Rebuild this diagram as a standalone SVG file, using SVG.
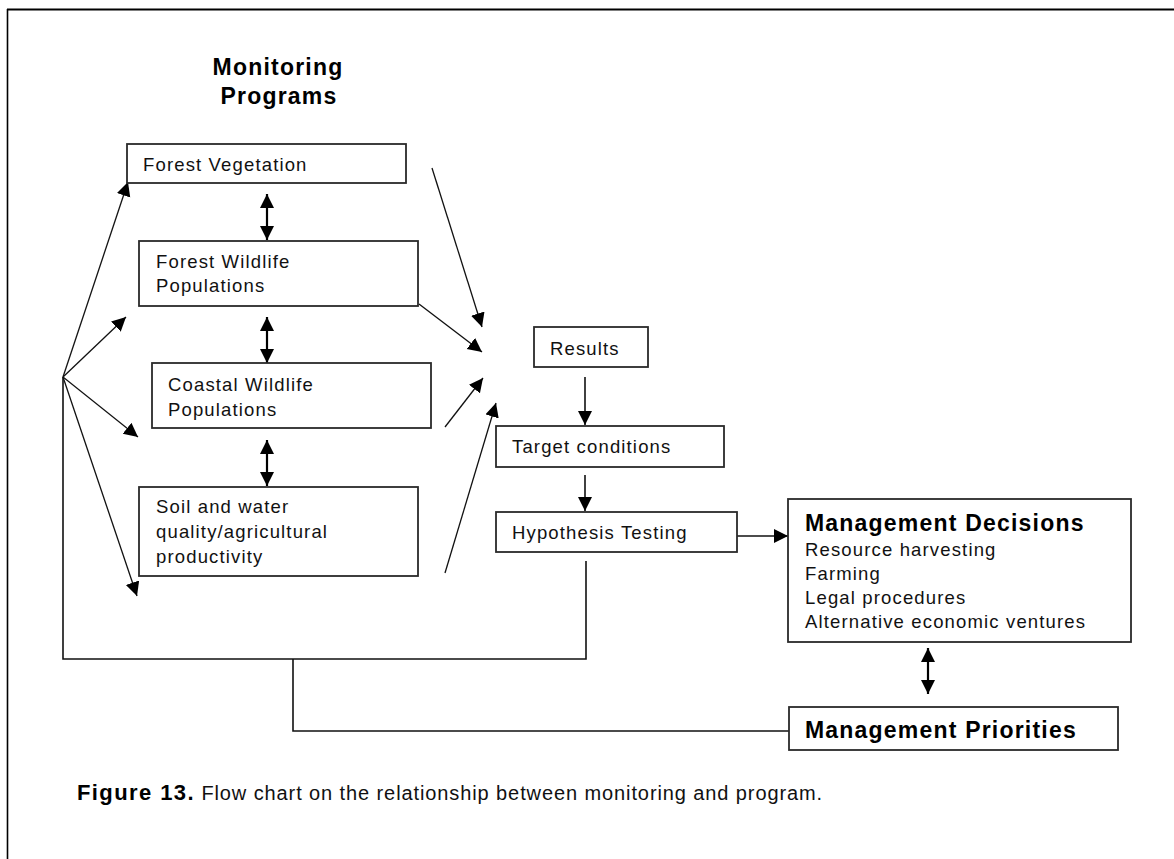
<svg xmlns="http://www.w3.org/2000/svg" width="1174" height="859" viewBox="0 0 1174 859">
  <style>
    .box { fill: #fff; stroke: #2a2a2a; stroke-width: 1.8; }
    .t { font-family: "Liberation Sans", Arial, sans-serif; font-size: 18.5px; letter-spacing: 1.15px; fill: #111; }
    .tb { font-family: "Liberation Sans", Arial, sans-serif; font-size: 23px; font-weight: bold; letter-spacing: 1.2px; fill: #000; }
    .thin { fill: none; stroke: #111; stroke-width: 1.3; }
    .mid { fill: none; stroke: #111; stroke-width: 1.6; }
    .dbl { fill: none; stroke: #000; stroke-width: 2.2; }
    .frame { fill: none; stroke: #000; }
  </style>
  <defs>
    <marker id="head" markerUnits="userSpaceOnUse" markerWidth="16" markerHeight="16" refX="14" refY="7" orient="auto-start-reverse" viewBox="0 0 16 16">
      <path d="M0,0 L14,7 L0,14 z" fill="#000"/>
    </marker>
  </defs>

  <rect width="1174" height="859" fill="#fff"/>

  <!-- page frame -->
  <g id="frame">
    <line class="frame" x1="7" y1="9.5" x2="1174" y2="9.5" stroke-width="2.2"/>
    <line class="frame" x1="7.5" y1="9" x2="7.5" y2="859" stroke-width="1.6"/>
  </g>

  <!-- heading -->
  <g id="title">
    <text class="tb" x="278" y="75" text-anchor="middle">Monitoring</text>
    <text class="tb" x="279" y="104" text-anchor="middle">Programs</text>
  </g>

  <!-- connectors -->
  <g id="connectors">
    <!-- fan out from the left hub -->
    <line class="thin" x1="63" y1="377" x2="128" y2="182" marker-end="url(#head)"/>
    <line class="thin" x1="63" y1="377" x2="126" y2="317" marker-end="url(#head)"/>
    <line class="thin" x1="63" y1="377" x2="138" y2="437" marker-end="url(#head)"/>
    <line class="thin" x1="63" y1="377" x2="137" y2="596" marker-end="url(#head)"/>
    <!-- feedback loop -->
    <polyline class="mid" points="63,377 63,659 586,659 586,561"/>
    <polyline class="mid" points="293,659 293,731 789,731"/>
    <!-- converging into results -->
    <line class="thin" x1="432" y1="168" x2="482" y2="327" marker-end="url(#head)"/>
    <line class="thin" x1="419" y1="304" x2="482" y2="352" marker-end="url(#head)"/>
    <line class="thin" x1="445" y1="427" x2="483" y2="378" marker-end="url(#head)"/>
    <line class="thin" x1="445" y1="573" x2="496" y2="403" marker-end="url(#head)"/>
    <!-- two-way links -->
    <line class="dbl" x1="267" y1="194" x2="267" y2="240" marker-start="url(#head)" marker-end="url(#head)"/>
    <line class="dbl" x1="267" y1="317" x2="267" y2="363" marker-start="url(#head)" marker-end="url(#head)"/>
    <line class="dbl" x1="267" y1="440" x2="267" y2="486" marker-start="url(#head)" marker-end="url(#head)"/>
    <line class="dbl" x1="928" y1="648" x2="928" y2="694" marker-start="url(#head)" marker-end="url(#head)"/>
    <!-- main sequence -->
    <line class="mid" x1="585" y1="377" x2="585" y2="425" marker-end="url(#head)"/>
    <line class="mid" x1="585" y1="475" x2="585" y2="511" marker-end="url(#head)"/>
    <line class="mid" x1="737" y1="536" x2="788" y2="536" marker-end="url(#head)"/>
  </g>

  <g id="forest-vegetation">
    <rect class="box" x="127" y="144" width="279" height="39"/>
    <text class="t" x="143" y="171">Forest Vegetation</text>
  </g>
  <g id="forest-wildlife">
    <rect class="box" x="139" y="241" width="279" height="65"/>
    <text class="t" x="156" y="268">Forest Wildlife</text>
    <text class="t" x="156" y="292">Populations</text>
  </g>
  <g id="coastal-wildlife">
    <rect class="box" x="152" y="363" width="279" height="65"/>
    <text class="t" x="168" y="391">Coastal Wildlife</text>
    <text class="t" x="168" y="416">Populations</text>
  </g>
  <g id="soil-water">
    <rect class="box" x="139" y="487" width="279" height="89"/>
    <text class="t" x="156" y="513">Soil and water</text>
    <text class="t" x="156" y="538">quality/agricultural</text>
    <text class="t" x="156" y="563">productivity</text>
  </g>
  <g id="results">
    <rect class="box" x="534" y="327" width="114" height="40"/>
    <text class="t" x="550" y="355">Results</text>
  </g>
  <g id="target-conditions">
    <rect class="box" x="496" y="426" width="228" height="41"/>
    <text class="t" x="512" y="453">Target conditions</text>
  </g>
  <g id="hypothesis-testing">
    <rect class="box" x="496" y="512" width="241" height="40"/>
    <text class="t" x="512" y="539">Hypothesis Testing</text>
  </g>
  <g id="management-decisions">
    <rect class="box" x="788" y="499" width="343" height="143"/>
    <text class="tb" x="805" y="531">Management Decisions</text>
    <text class="t" x="805" y="556">Resource harvesting</text>
    <text class="t" x="805" y="580">Farming</text>
    <text class="t" x="805" y="604">Legal procedures</text>
    <text class="t" x="805" y="628">Alternative economic ventures</text>
  </g>
  <g id="management-priorities">
    <rect class="box" x="789" y="707" width="329" height="43"/>
    <text class="tb" x="805" y="738">Management Priorities</text>
  </g>

  <g id="caption">
    <text x="77" y="800" font-family="'Liberation Sans', Arial, sans-serif" font-size="20" fill="#111" letter-spacing="0.9"><tspan font-size="22" font-weight="bold" letter-spacing="1.4" fill="#000">Figure 13.</tspan> Flow chart on the relationship between monitoring and program.</text>
  </g>
</svg>
